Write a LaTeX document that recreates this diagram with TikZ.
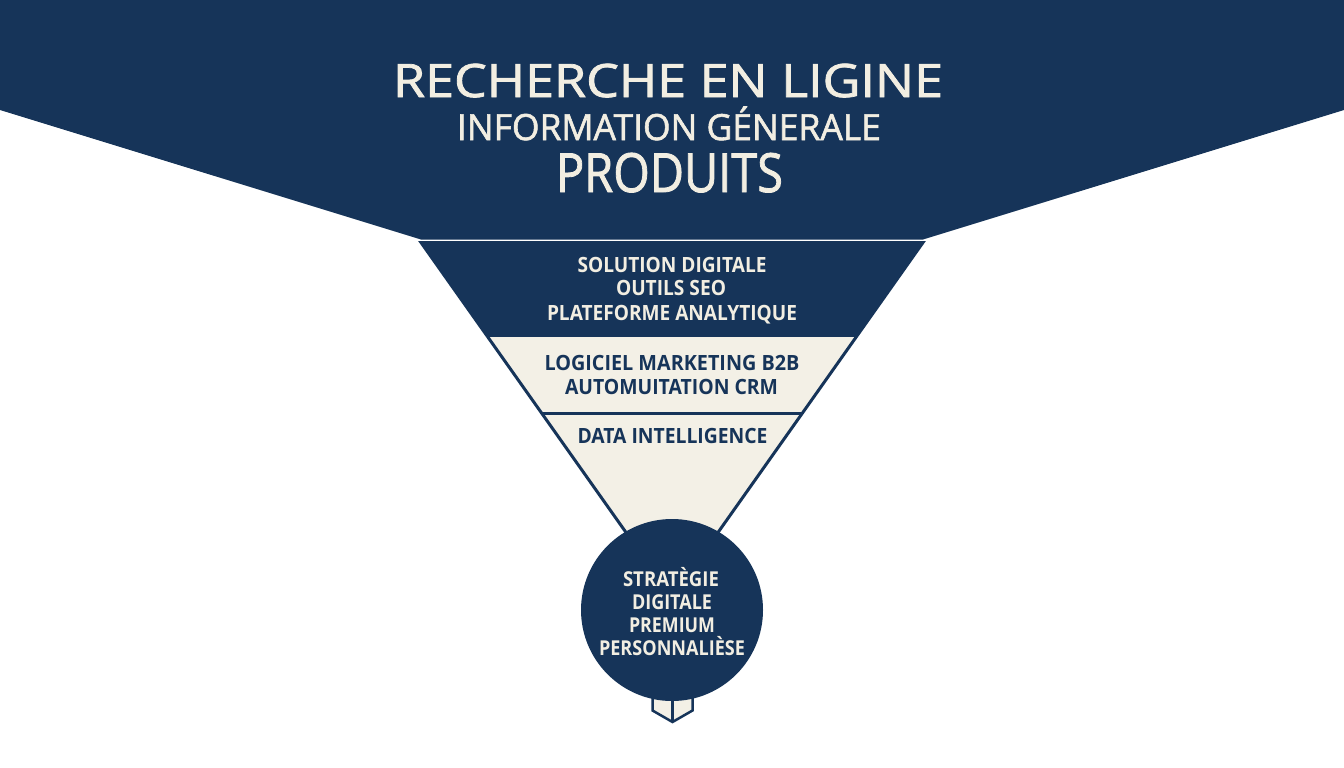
\documentclass[tikz,border=0pt]{standalone}
\usepackage{fontspec}
\setmainfont{Open Sans}
\newfontfamily\titlefont{Open Sans}[FakeBold=1.6]
\usepackage{graphicx}
\definecolor{navy}{RGB}{22,52,89}
\definecolor{cream}{RGB}{243,240,230}
\definecolor{creamtext}{RGB}{242,238,226}
\newsavebox\fitbox
\newcommand\fitw[2]{\sbox\fitbox{#2}\pgfmathsetmacro\fitsx{#1/\wd\fitbox}\scalebox{\fitsx}[1]{\usebox\fitbox}}
\begin{document}
\begin{tikzpicture}[x=1pt,y=-1pt,
  txt/.style={inner sep=0pt, anchor=base},
  titlea/.style={txt, text=creamtext, font=\titlefont\fontsize{46}{50}\selectfont},
  titleb/.style={txt, text=creamtext, font=\titlefont\fontsize{36}{40}\selectfont},
  titlec/.style={txt, text=creamtext, font=\titlefont\fontsize{54}{58}\selectfont},
  darkband/.style={txt, text=creamtext, font=\bfseries\fontsize{21}{24}\selectfont},
  lightband/.style={txt, text=navy, font=\bfseries\fontsize{21}{24}\selectfont},
  goaltext/.style={txt, text=creamtext, font=\bfseries\fontsize{20.5}{24}\selectfont},
  outline/.style={navy, line width=3pt, line join=miter}
]
\useasboundingbox (0,0) rectangle (1344,768);
\fill[white] (0,0) rectangle (1344,768);
% top band
\fill[navy] (0,0) -- (1344,0) -- (1344,110) -- (923,239.5) -- (421,239.5) -- (0,110) -- cycle;
% funnel
\coordinate (ftl) at (421,242.5);
\coordinate (ftr) at (923,242.5);
\coordinate (apex) at (672,597.5);
\coordinate (d1l) at (486.4,335);
\coordinate (d1r) at (857.6,335);
\coordinate (d2l) at (541.5,413);
\coordinate (d2r) at (802.5,413);
\fill[cream] (d1l) -- (d1r) -- (apex) -- cycle;
\fill[navy] (ftl) -- (ftr) -- (d1r) -- (d1l) -- cycle;
\draw[outline] (ftl) -- (ftr) -- (apex) -- cycle;
\draw[outline] (d1l) -- (d1r);
\draw[outline] (d2l) -- (d2r);
% marker below circle
\draw[navy, line width=2.5pt, fill=cream, line join=miter]
  (652.5,695) -- (692.5,695) -- (692.5,710.5) -- (672.5,722) -- (652.5,710.5) -- cycle;
\draw[navy, line width=2.5pt] (672.5,695) -- (672.5,721);
% circle
\node[circle, fill=navy, minimum size=182pt, inner sep=0pt] (goal) at (672,610) {};
% title texts
\node[titlea] (t1) at (668,97) {\fitw{550}{RECHERCHE EN LIGINE}};
\node[titleb] (t2) at (669,140) {\fitw{424}{INFORMATION GÉNERALE}};
\node[titlec] (t3) at (669.5,192) {\fitw{227}{PRODUITS}};
% band 1
\node[darkband] (b1a) at (672,272) {\fitw{189}{SOLUTION DIGITALE}};
\node[darkband] (b1b) at (671,295) {\fitw{110}{OUTILS SEO}};
\node[darkband] (b1c) at (672,320) {\fitw{250}{PLATEFORME ANALYTIQUE}};
% band 2
\node[lightband] (b2a) at (672,370) {\fitw{255}{LOGICIEL MARKETING B2B}};
\node[lightband] (b2b) at (671.5,394) {\fitw{213}{AUTOMUITATION CRM}};
% band 3
\node[lightband] (b3a) at (672.5,443) {\fitw{190}{DATA INTELLIGENCE}};
% circle text
\node[goaltext] (g1) at (671,586) {\fitw{96}{STRATÈGIE}};
\node[goaltext] (g2) at (672,609) {\fitw{80}{DIGITALE}};
\node[goaltext] (g3) at (672,632) {\fitw{86}{PREMIUM}};
\node[goaltext] (g4) at (672,655) {\fitw{146}{PERSONNALIÈSE}};
\end{tikzpicture}
\end{document}
